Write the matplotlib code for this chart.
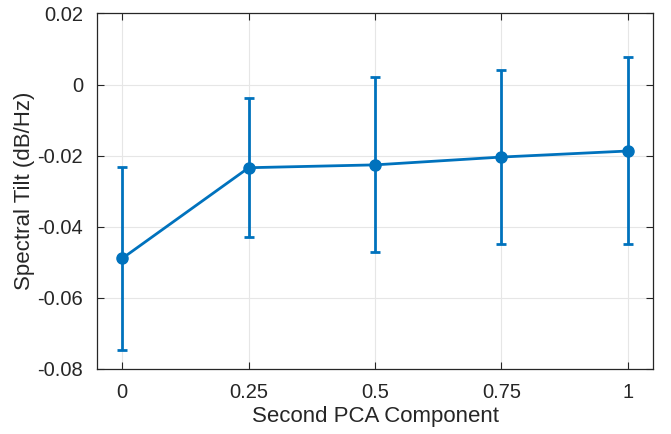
import numpy as np
import matplotlib.pyplot as plt

plt.rcParams['font.family'] = ['Liberation Sans', 'DejaVu Sans']

# data
pca_component = [0, 0.25, 0.5, 0.75, 1]
tilt_mean = [-0.0489, -0.0234, -0.0226, -0.0204, -0.0187]
tilt_upper = [-0.0232, -0.0037, 0.0022, 0.0041, 0.0077]
tilt_lower = [-0.0748, -0.0428, -0.0472, -0.0449, -0.0449]

x_ticks = [0, 0.25, 0.5, 0.75, 1]
x_tick_labels = ['0', '0.25', '0.5', '0.75', '1']
y_ticks = [-0.08, -0.06, -0.04, -0.02, 0, 0.02]
y_tick_labels = ['-0.08', '-0.06', '-0.04', '-0.02', '0', '0.02']

mean = np.array(tilt_mean)
yerr = [mean - np.array(tilt_lower), np.array(tilt_upper) - mean]

blue = '#0072BD'
dark = '#262626'

fig = plt.figure(figsize=(6.71, 4.34), dpi=100)
ax = fig.add_axes([0.1446, 0.150, 0.8286, 0.819])

ax.errorbar(pca_component, tilt_mean, yerr=yerr, color=blue, linewidth=2,
            marker='o', markersize=8, capsize=3.5, capthick=2, elinewidth=2)

ax.set_xlim(-0.05, 1.05)
ax.set_ylim(-0.08, 0.02)
ax.set_xticks(x_ticks)
ax.set_xticklabels(x_tick_labels)
ax.set_yticks(y_ticks)
ax.set_yticklabels(y_tick_labels)

ax.grid(True, color='#e6e6e6', linewidth=0.8)
ax.set_axisbelow(True)
ax.tick_params(direction='in', length=5, width=0.8, colors=dark,
               labelsize=14.5, top=True, right=True)
ax.tick_params(axis='x', pad=10)
ax.tick_params(axis='y', pad=10)
for s in ax.spines.values():
    s.set_color(dark)
    s.set_linewidth(0.9)

ax.set_xlabel('Second PCA Component', fontsize=16, color=dark, labelpad=3)
ax.set_ylabel('Spectral Tilt (dB/Hz)', fontsize=16, color=dark, labelpad=2)

fig.savefig('out.png', dpi=100)
